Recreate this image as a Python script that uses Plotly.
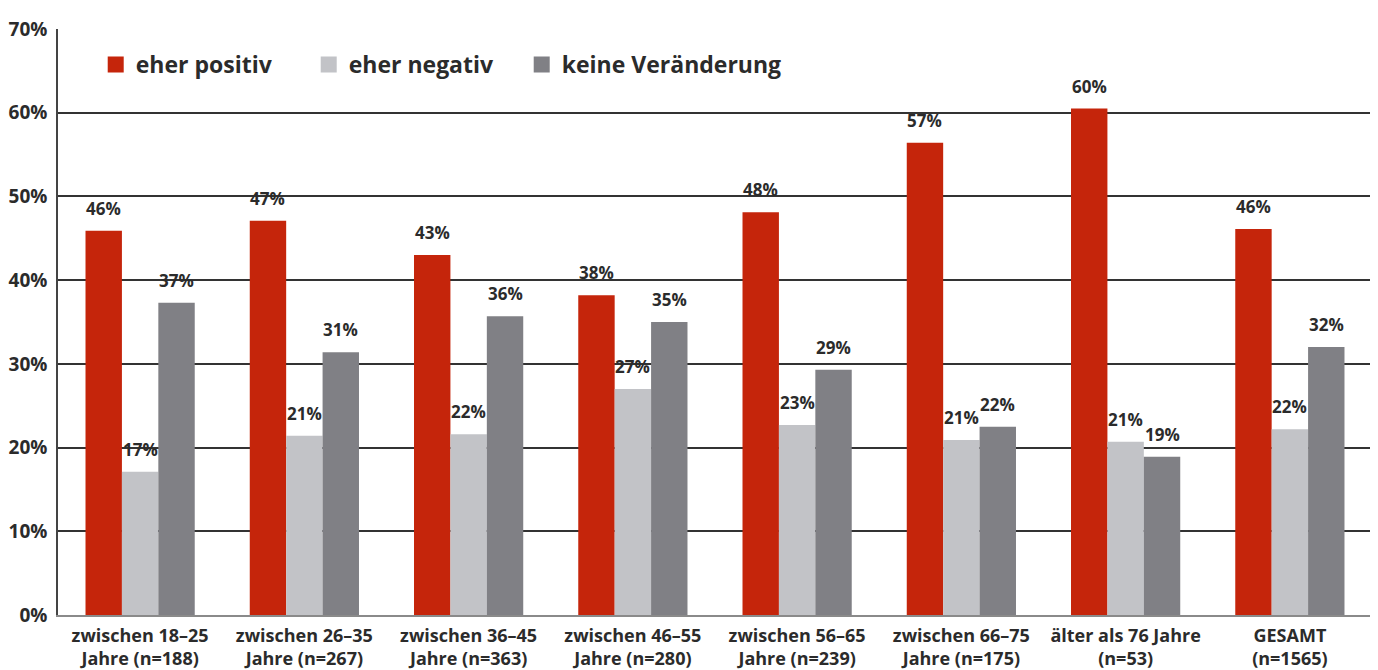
import plotly.graph_objects as go

categories = [
    "zwischen 18–25<br>Jahre (n=188)",
    "zwischen 26–35<br>Jahre (n=267)",
    "zwischen 36–45<br>Jahre (n=363)",
    "zwischen 46–55<br>Jahre (n=280)",
    "zwischen 56–65<br>Jahre (n=239)",
    "zwischen 66–75<br>Jahre (n=175)",
    "älter als 76 Jahre<br>(n=53)",
    "GESAMT<br>(n=1565)",
]
series_names = ["eher positiv", "eher negativ", "keine Veränderung"]
positiv = [45.9, 47.1, 43.0, 38.2, 48.1, 56.4, 60.5, 46.1]
negativ = [17.1, 21.4, 21.6, 27.0, 22.7, 20.9, 20.7, 22.2]
keine = [37.3, 31.4, 35.7, 35.0, 29.3, 22.5, 18.9, 32.0]
positiv_labels = ["46%", "47%", "43%", "38%", "48%", "57%", "60%", "46%"]
negativ_labels = ["17%", "21%", "22%", "27%", "23%", "21%", "21%", "22%"]
keine_labels = ["37%", "31%", "36%", "35%", "29%", "22%", "19%", "32%"]
y_ticks = [0, 10, 20, 30, 40, 50, 60, 70]

colors = ["#C5250B", "#C2C3C7", "#808085"]
FONT = "Open Sans"
TXT = "#2b2b2b"

# the page body has an 8px default margin; size the figure to compensate
W, H = 1370, 662
ML, MR, MT, MB = 50, 6, 21, 55
BARGAP = 0.335

fig = go.Figure()
values = [positiv, negativ, keine]
labels = [positiv_labels, negativ_labels, keine_labels]

for name, vals, col in zip(series_names, values, colors):
    fig.add_trace(go.Bar(
        x=categories, y=vals, name=name, marker=dict(color=col, line=dict(width=0)),
        showlegend=False, hoverinfo="skip",
    ))
    # legend-only marker
    fig.add_trace(go.Scatter(
        x=[None], y=[None], mode="markers", name=name,
        marker=dict(symbol="square", size=18, color=col),
    ))
# spacer entry so the last legend label is not clipped
fig.add_trace(go.Scatter(
    x=[None], y=[None], mode="markers", name=" ",
    marker=dict(symbol="square", size=1, color="rgba(0,0,0,0)"),
))

# value labels placed at the data points, shifted by the bar slot width
plot_w = W - ML - MR
bar_px = plot_w / len(categories) * (1 - BARGAP) / 3
for k, (vals, labs) in enumerate(zip(values, labels)):
    for cat, v, lab in zip(categories, vals, labs):
        fig.add_annotation(
            x=cat, y=v, xref="x", yref="y", text="<b>" + lab + "</b>",
            showarrow=False, xshift=(k - 1) * bar_px, yshift=9,
            yanchor="bottom", xanchor="center",
            font=dict(family=FONT, size=17, color=TXT),
        )

fig.update_layout(
    width=W, height=H,
    margin=dict(l=ML, r=MR, t=MT, b=MB, pad=0),
    paper_bgcolor="white", plot_bgcolor="white",
    barmode="group", bargap=BARGAP, bargroupgap=0,
    font=dict(family=FONT, color=TXT),
    legend=dict(
        orientation="h", x=0.0287, y=0.976, xanchor="left", yanchor="top",
        font=dict(family=FONT, size=23, color=TXT, weight="bold"),
        bgcolor="rgba(0,0,0,0)", entrywidth=168, itemclick=False,
    ),
)
fig.update_xaxes(
    type="category", showgrid=False, showline=True, linecolor="#8a8a8a", linewidth=2,
    ticks="", tickfont=dict(family=FONT, size=18, color=TXT, weight="bold"),
    ticklabelstandoff=3, automargin=False,
)
fig.update_yaxes(
    range=[0, 70], tickvals=y_ticks, ticktext=[f"{t}%" for t in y_ticks],
    showgrid=True, gridcolor="#333333", gridwidth=1.5, zeroline=False,
    showline=True, mirror=True, linecolor="#444444", linewidth=1.5,
    ticks="", tickfont=dict(family=FONT, size=19, color=TXT, weight="bold"),
    ticklabelstandoff=5, automargin=False,
)

fig.write_html("out.html")
